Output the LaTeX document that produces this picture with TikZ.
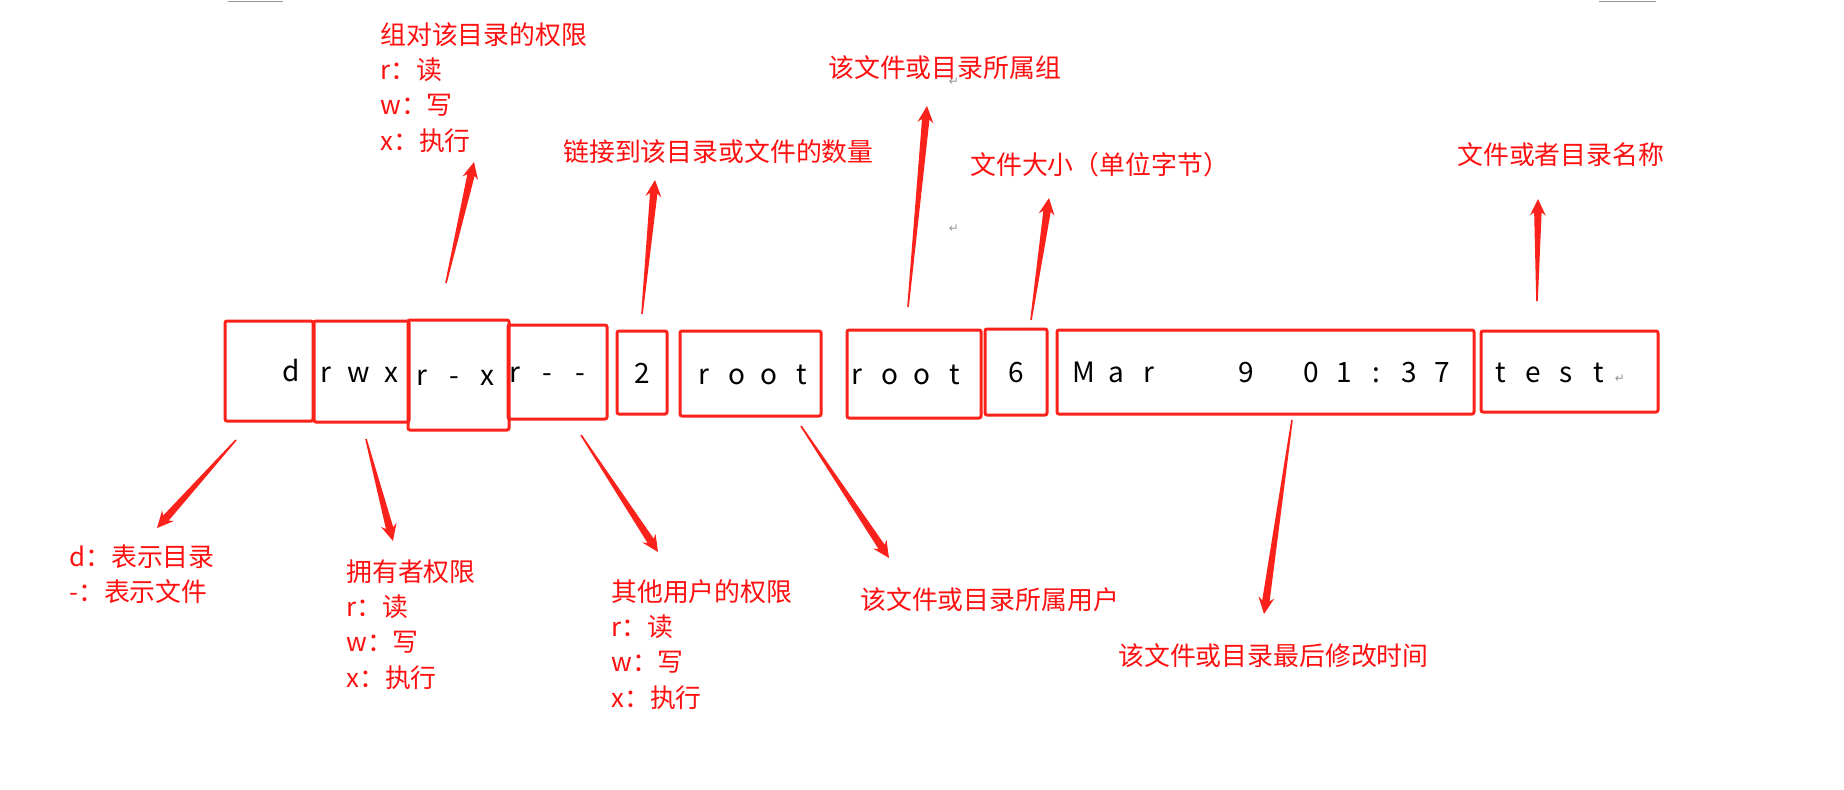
\documentclass[tikz,border=0pt]{standalone}
\usepackage{fontspec}
\setmainfont{Noto Sans CJK SC}
\newfontfamily\symfont{DejaVu Sans}
\usetikzlibrary{calc}
\definecolor{boxred}{RGB}{250,34,26}
\definecolor{notered}{RGB}{255,16,16}
\definecolor{markgray}{RGB}{150,150,150}
\newcommand{\lscell}[1]{\makebox[24.4pt]{#1}}
\newcommand{\fieldtext}[2]{\makebox[0pt]{\hspace*{#1}#2\hspace*{-#1}}}
\newcommand{\retmark}{{\symfont\fontsize{9}{9}\selectfont\color{markgray}↵}}
\newcommand{\taperarrow}[2]{%
  \fill[boxred] ($(#1)!0.6pt!90:(#2)$) -- ($(#2)!10pt!(#1)!2.8pt!-90:(#1)$)
    -- ($(#2)!12.5pt!(#1)!6pt!-90:(#1)$) -- (#2)
    -- ($(#2)!12.5pt!(#1)!6pt!90:(#1)$) -- ($(#2)!10pt!(#1)!2.8pt!90:(#1)$)
    -- ($(#1)!0.6pt!-90:(#2)$) -- cycle;}

\begin{document}
\begin{tikzpicture}[x=0.75pt, y=-0.75pt,
                    field/.style={draw=boxred, line width=2.25pt, rounded corners=1.5pt, inner sep=0pt,
                                  text height=16pt, text depth=0pt, font=\fontsize{21}{21}\selectfont},
                    note/.style={anchor=north west, align=left, inner sep=0pt, text=notered,
                                 font=\fontsize{19.4}{26.5}\selectfont}]
\path[fill=white, use as bounding box] (0,0) rectangle (1844,789);
\draw[markgray, line width=1pt] (228,1.5) -- (283,1.5) (1599,1.5) -- (1656,1.5);

\node (type) [field, minimum width=66pt, minimum height=75pt] at (269,371) {\fieldtext{17pt}{\lscell{d}}};
\node (own) [field, minimum width=71.25pt, minimum height=75.75pt] at (361.5,371.5) {\fieldtext{-2pt}{\lscell{r}\lscell{w}\lscell{x}}};
\node (grp) [field, minimum width=75.75pt, minimum height=82.5pt] at (458.5,375) {\fieldtext{-3pt}{\lscell{r}\lscell{-}\lscell{x}}};
\node (oth) [field, minimum width=74.25pt, minimum height=70.5pt] at (557.5,372) {\fieldtext{-7.5pt}{\lscell{r}\lscell{-}\lscell{-}}};
\node (links) [field, minimum width=37.5pt, minimum height=62.25pt] at (642,372.5) {2};
\node (user) [field, minimum width=105.75pt, minimum height=63.75pt] at (750.5,373.5) {\fieldtext{2pt}{\lscell{r}\lscell{o}\lscell{o}\lscell{t}}};
\node (group) [field, minimum width=100.5pt, minimum height=66pt] at (914,374) {\fieldtext{-6pt}{\lscell{r}\lscell{o}\lscell{o}\lscell{t}}};
\node (size) [field, minimum width=46.5pt, minimum height=64.5pt] at (1016,372) {6};
\node (mtime) [field, minimum width=312.75pt, minimum height=63pt] at (1265.5,372)
  {\fieldtext{-2pt}{\lscell{M}\lscell{a}\lscell{r}\lscell{}\lscell{}\lscell{9}\lscell{}\lscell{0}\lscell{1}\lscell{:}\lscell{3}\lscell{7}}};
\node (fname) [field, minimum width=132.75pt, minimum height=60.75pt] at (1569.5,371.5)
  {\fieldtext{-11pt}{\lscell{t}\lscell{e}\lscell{s}\lscell{t}\retmark}};

\node (ngrp) [note] at (380,22) {组对该目录的权限\\r：读\\w：写\\x：执行};
\node (nlinks) [note] at (563,139) {链接到该目录或文件的数量};
\node (ngroup) [note] at (828,55) {该文件或目录所属组};
\node (nsize) [note] at (970,152) {文件大小（单位字节）};
\node (nname) [note] at (1457,142) {文件或者目录名称};
\node (ntype) [note] at (69,544) {d：表示目录\\-：表示文件};
\node (nown) [note] at (346,559) {拥有者权限\\r：读\\w：写\\x：执行};
\node (noth) [note] at (611,579) {其他用户的权限\\r：读\\w：写\\x：执行};
\node (nuser) [note] at (860,587) {该文件或目录所属用户};
\node (ntime) [note] at (1118,643) {该文件或目录最后修改时间};
\node (ret1) [inner sep=0pt] at (954,82) {\retmark};
\node (ret2) [inner sep=0pt] at (954,229) {\retmark};

\coordinate (grpt) at (446,283);   \coordinate (grph) at (474,162);
\coordinate (linkt) at (642,314);  \coordinate (linkh) at (655,180);
\coordinate (gownt) at (908,307);  \coordinate (gownh) at (927,106);
\coordinate (sizet) at (1031,320); \coordinate (sizeh) at (1049,198);
\coordinate (namet) at (1537,301); \coordinate (nameh) at (1538,199);
\coordinate (typet) at (236,440);  \coordinate (typeh) at (157,528);
\coordinate (ownt) at (366,439);   \coordinate (ownh) at (393,541);
\coordinate (otht) at (581,435);   \coordinate (othh) at (658,552);
\coordinate (usert) at (801,426);  \coordinate (userh) at (889,558);
\coordinate (timet) at (1292,420); \coordinate (timeh) at (1264,614);
\taperarrow{grpt}{grph}
\taperarrow{linkt}{linkh}
\taperarrow{gownt}{gownh}
\taperarrow{sizet}{sizeh}
\taperarrow{namet}{nameh}
\taperarrow{typet}{typeh}
\taperarrow{ownt}{ownh}
\taperarrow{otht}{othh}
\taperarrow{usert}{userh}
\taperarrow{timet}{timeh}
\end{tikzpicture}
\end{document}
